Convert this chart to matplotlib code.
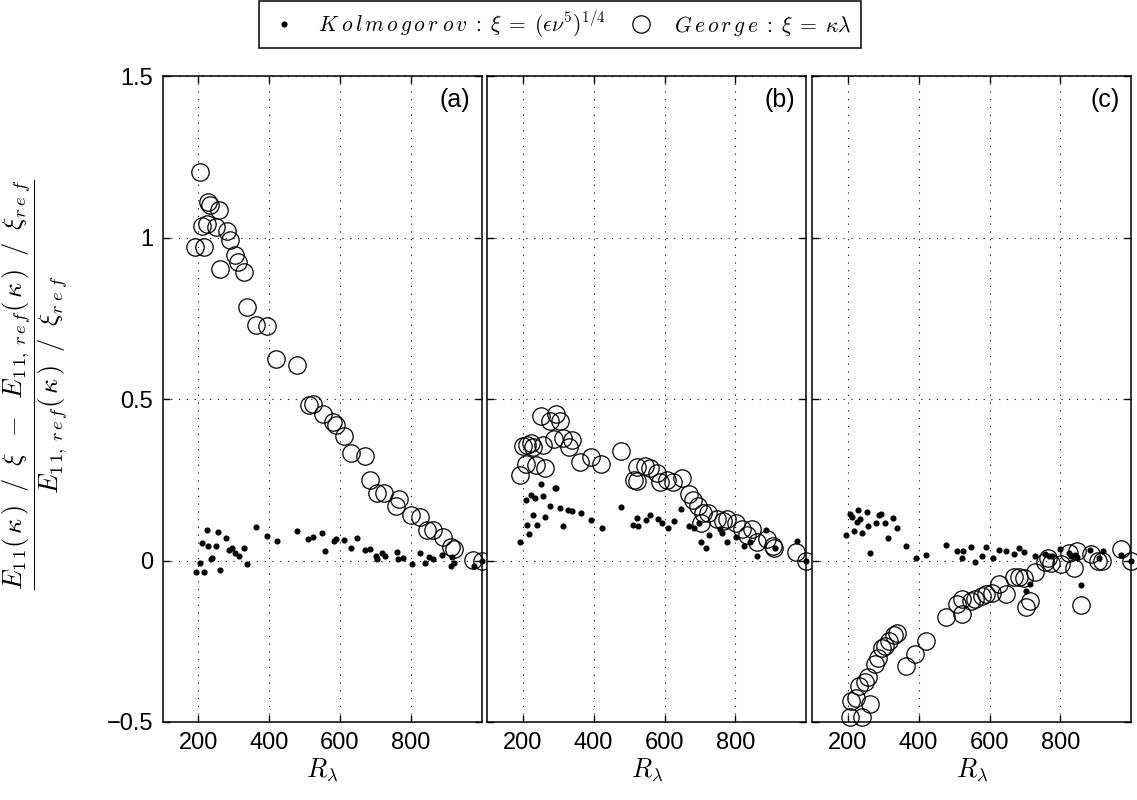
import matplotlib
matplotlib.use("Agg")
import matplotlib.pyplot as plt
from matplotlib.lines import Line2D

plt.rcParams['font.family'] = ['Liberation Sans', 'DejaVu Sans']
plt.rcParams['mathtext.fontset'] = 'cm'

# ---------------- data ----------------
# Panel (a)
a_kol_x = [193, 205, 211, 217, 224, 228, 236, 240, 251, 256, 262, 279, 288, 295, 304, 314, 329, 339,
           364, 393, 422, 479, 511, 525, 549, 559, 582, 590, 611, 630, 649, 672, 685, 703, 706, 718,
           727, 760, 765, 777, 804, 826, 840, 852, 862, 888, 914, 916, 922, 978, 1000]
a_kol_y = [-0.036, -0.006, 0.055, -0.036, 0.094, 0.044, 0.004, 0.007, 0.045, 0.089, -0.030, 0.071,
           0.032, 0.039, 0.022, 0.015, 0.040, -0.009, 0.105, 0.076, 0.060, 0.093, 0.066, 0.073, 0.086,
           0.029, 0.061, 0.068, 0.063, 0.039, 0.070, 0.032, 0.037, 0.013, 0.004, 0.024, 0.015, 0.027,
           0.004, 0.009, -0.012, 0.022, -0.007, 0.011, 0.004, 0.016, -0.017, 0.011, -0.006, -0.018, 0.0]
a_geo_x = [205, 228, 234, 258, 212, 224, 250, 281, 291, 191, 217, 305, 312, 262, 328, 339, 364, 393,
           421, 478, 514, 525, 551, 580, 590, 611, 630, 672, 686, 704, 724, 758, 767, 800, 827, 846,
           862, 890, 914, 923, 976, 1000]
a_geo_y = [1.203, 1.111, 1.103, 1.086, 1.037, 1.044, 1.034, 1.021, 0.993, 0.972, 0.972, 0.946, 0.925,
           0.903, 0.894, 0.785, 0.729, 0.727, 0.623, 0.605, 0.483, 0.486, 0.455, 0.430, 0.421, 0.385,
           0.333, 0.323, 0.249, 0.210, 0.208, 0.168, 0.192, 0.140, 0.135, 0.094, 0.094, 0.073, 0.042,
           0.037, 0.001, 0.0]

# Panel (b)
b_kol_x = [193, 208, 211, 218, 224, 228, 234, 240, 251, 257, 263, 278, 290, 295, 305, 313, 328, 340,
           364, 392, 423, 477, 510, 523, 525, 548, 559, 581, 592, 610, 627, 646, 670, 684, 698, 703,
           716, 726, 757, 762, 775, 801, 823, 840, 860, 885, 911, 974, 1000]
b_kol_y = [0.057, 0.189, 0.110, 0.082, 0.204, 0.141, 0.193, 0.110, 0.237, 0.201, 0.136, 0.169, 0.224,
           0.226, 0.162, 0.108, 0.158, 0.155, 0.147, 0.127, 0.102, 0.167, 0.111, 0.131, 0.106, 0.125,
           0.140, 0.128, 0.117, 0.101, 0.124, 0.159, 0.107, 0.100, 0.117, 0.057, 0.040, 0.080, 0.097,
           0.084, 0.057, 0.073, 0.045, 0.057, 0.014, 0.096, 0.040, 0.061, 0.0]
b_geo_x = [193, 200, 212, 224, 228, 210, 238, 263, 257, 252, 278, 294, 304, 287, 313, 330, 340, 361,
           392, 422, 478, 521, 513, 523, 544, 559, 579, 587, 606, 625, 648, 670, 681, 695, 708, 703,
           724, 747, 764, 776, 802, 818, 832, 846, 860, 889, 905, 910, 972, 1000]
b_geo_y = [0.264, 0.354, 0.359, 0.365, 0.352, 0.298, 0.295, 0.287, 0.359, 0.449, 0.434, 0.455, 0.431,
           0.377, 0.380, 0.352, 0.375, 0.306, 0.321, 0.298, 0.339, 0.290, 0.251, 0.246, 0.292, 0.287,
           0.272, 0.243, 0.251, 0.243, 0.256, 0.205, 0.189, 0.169, 0.148, 0.117, 0.148, 0.128, 0.122,
           0.130, 0.115, 0.097, 0.078, 0.097, 0.057, 0.066, 0.045, 0.040, 0.027, 0.0]

# Panel (c)
c_kol_x = [195, 206, 212, 218, 225, 229, 235, 241, 253, 256, 264, 280, 288, 295, 306, 314, 329, 340,
           365, 392, 422, 478, 509, 525, 523, 549, 558, 580, 591, 609, 628, 647, 670, 684, 698, 714,
           704, 727, 756, 768, 775, 800, 823, 831, 840, 859, 848, 884, 909, 920, 970, 1000]
c_kol_y = [0.079, 0.143, 0.136, 0.091, 0.119, 0.158, 0.130, 0.087, 0.151, 0.107, 0.022, 0.117, 0.141,
           0.143, 0.117, 0.070, 0.131, 0.102, 0.045, 0.009, 0.018, 0.048, 0.029, 0.029, 0.009, 0.043,
           -0.004, 0.015, 0.041, 0.008, 0.032, 0.029, 0.019, 0.040, 0.027, -0.071, -0.093, 0.014,
           0.019, 0.014, 0.014, 0.036, 0.023, 0.014, 0.016, -0.075, 0.011, 0.032, 0.009, 0.030,
           0.016, 0.0]
c_geo_x = [206, 241, 208, 222, 231, 264, 250, 256, 278, 286, 297, 304, 316, 330, 338, 363, 391, 421,
           478, 509, 523, 523, 549, 558, 580, 591, 608, 627, 647, 669, 683, 697, 704, 714, 727, 756,
           765, 774, 801, 823, 838, 848, 859, 885, 906, 918, 970, 1000]
c_geo_y = [-0.485, -0.483, -0.434, -0.427, -0.389, -0.444, -0.375, -0.362, -0.320, -0.303, -0.272,
           -0.264, -0.248, -0.231, -0.223, -0.328, -0.290, -0.248, -0.176, -0.133, -0.166, -0.120,
           -0.125, -0.118, -0.109, -0.104, -0.099, -0.073, -0.104, -0.051, -0.051, -0.053, -0.145,
           -0.125, -0.035, -0.004, 0.007, -0.006, -0.011, 0.023, -0.022, 0.030, -0.137, 0.019,
           -0.001, -0.001, 0.035, 0.0]

panel_labels = ['(a)', '(b)', '(c)']
x_ticks = [200, 400, 600, 800]
y_ticks = [-0.5, 0, 0.5, 1, 1.5]
y_ticklabels = ['\u22120.5', '0', '0.5', '1', '1.5']

kol_label = r'$K\;o\,l\,m\,o\,g\,o\,r\;o\,v\;:\;\xi\;=\;(\epsilon\nu^5)^{1/4}$'
geo_label = r'$G\,e\,o\,r\,g\,e\;:\;\xi\;=\;\kappa\lambda$'
ylabel = (r'$\dfrac{E_{1\,1}(\,\kappa\,)\;\;/\;\;\xi\;\;-\;\;E_{1\,1,\;r\,e\,f}(\,\kappa\,)\;\;/\;\;\xi_{r\;e\;f}}'
          r'{E_{1\,1,\;r\,e\,f}(\,\kappa\,)\;\;/\;\;\xi_{r\;e\;f}}$')
xlabel = r'$R_\lambda$'

panels = [(a_kol_x, a_kol_y, a_geo_x, a_geo_y),
          (b_kol_x, b_kol_y, b_geo_x, b_geo_y),
          (c_kol_x, c_kol_y, c_geo_x, c_geo_y)]

# ---------------- figure ----------------
fig = plt.figure(figsize=(11.37, 8.0), dpi=100)
W, H = 1137.0, 800.0
lefts = [162.7, 487.3, 812.3]
aw = 319.0
top_px, bot_px = 76.4, 722.0

for i, (kx, ky, gx, gy) in enumerate(panels):
    ax = fig.add_axes([lefts[i] / W, 1 - bot_px / H, aw / W, (bot_px - top_px) / H])
    ax.plot(kx, ky, linestyle='none', marker='o', ms=3.4, mfc='black', mec='black',
            clip_on=False, zorder=3)
    ax.plot(gx, gy, linestyle='none', marker='o', ms=12.5, mfc='none', mec='black',
            mew=0.9, clip_on=False, zorder=3)
    ax.set_xlim(100, 1000)
    ax.set_ylim(-0.5, 1.5)
    ax.set_xticks(x_ticks)
    ax.set_yticks(y_ticks)
    ax.grid(True, color='black', linestyle=(0, (1, 6)), linewidth=0.8)
    ax.tick_params(direction='in', top=True, right=True, length=5, width=1,
                   labelsize=17)
    ax.tick_params(axis='x', pad=7)
    ax.tick_params(axis='y', pad=7)
    if i == 0:
        ax.set_yticklabels(y_ticklabels)
    else:
        ax.set_yticklabels([])
    for s in ax.spines.values():
        s.set_linewidth(1.1)
    ax.set_xlabel(xlabel, fontsize=19, labelpad=2)
    ax.text(0.965, 0.982, panel_labels[i], transform=ax.transAxes, ha='right', va='top',
            fontsize=18)

fig.text(35 / W, 1 - 385 / H, ylabel, rotation=90, ha='center', va='center', fontsize=19)

handles = [Line2D([], [], linestyle='none', marker='o', ms=3.4, mfc='black', mec='black'),
           Line2D([], [], linestyle='none', marker='o', ms=12.5, mfc='none', mec='black', mew=0.9)]
leg = fig.legend(handles, [kol_label, geo_label], loc='center', ncol=2,
                 bbox_to_anchor=(560 / W, 1 - 24.5 / H), fontsize=15.5, frameon=True,
                 fancybox=False, edgecolor='black', framealpha=1, handlelength=1.5,
                 columnspacing=0.9, borderpad=0.4, handletextpad=0.8)
leg.get_frame().set_linewidth(1.1)

fig.savefig('out.png', dpi=100)
